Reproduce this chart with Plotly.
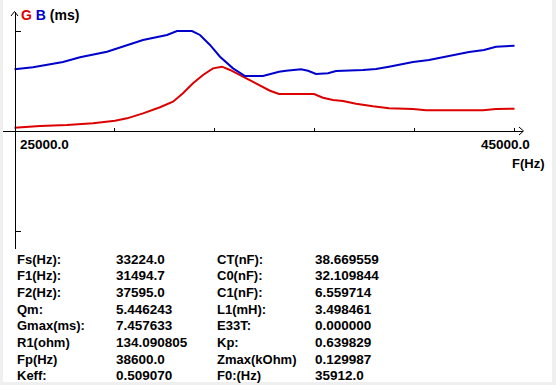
import plotly.graph_objects as go

# ---------------- data ----------------
freq_b = [25000, 25740, 26940, 27620, 28700, 29340, 30140, 31100, 31500, 32100, 32420,
          32820, 33220, 33740, 34220, 34940, 35580, 35860, 36460, 36740, 37060, 37540,
          37860, 38940, 39460, 39980, 40940, 41580, 42380, 43180, 43780, 44260, 45000]
b_ms = [7.16, 7.39, 8.00, 8.55, 9.20, 9.78, 10.56, 11.14, 11.60, 11.60, 11.14,
        9.98, 8.62, 7.27, 6.38, 6.38, 6.88, 6.99, 7.16, 6.99, 6.61, 6.69,
        6.96, 7.08, 7.19, 7.46, 8.00, 8.24, 8.73, 9.16, 9.40, 9.78, 9.89]

freq_g = [25000, 26020, 27100, 28140, 29020, 29500, 30140, 30820, 31340, 31740, 32140,
          32540, 32940, 33300, 33620, 34140, 34700, 35220, 35580, 36980, 37340, 37740,
          38140, 38660, 39340, 39980, 40940, 41460, 43740, 44260, 45000]
g_ms = [0.38, 0.58, 0.70, 0.89, 1.19, 1.47, 2.05, 2.75, 3.40, 4.37, 5.53,
        6.50, 7.27, 7.46, 7.08, 6.30, 5.45, 4.67, 4.29, 4.29, 3.86, 3.60,
        3.48, 3.17, 2.87, 2.63, 2.55, 2.40, 2.40, 2.55, 2.59]

x_ticks = [29000, 33000, 37000, 41000, 45000]
x_tick_labels = ["25000.0", "45000.0"]
y_ticks = [-11.6, 11.6]

param_names_1 = ["Fs(Hz):", "F1(Hz):", "F2(Hz):", "Qm:", "Gmax(ms):", "R1(ohm)", "Fp(Hz)", "Keff:"]
param_values_1 = ["33224.0", "31494.7", "37595.0", "5.446243", "7.457633", "134.090805", "38600.0", "0.509070"]
param_names_2 = ["CT(nF):", "C0(nF):", "C1(nF):", "L1(mH):", "E33T:", "Kp:", "Zmax(kOhm)", "F0:(Hz)"]
param_values_2 = ["38.669559", "32.109844", "6.559714", "3.498461", "0.000000", "0.639829", "0.129987", "35912.0"]

# ---------------- layout helpers ----------------
W, H = 556, 385
def px(x):
    return x / W
def py(y):
    return 1 - y / H

RED = "#dd0000"
BLUE = "#0000cc"
FONT = "Liberation Sans"

fig = go.Figure()
fig.add_trace(go.Scatter(x=freq_g, y=g_ms, mode="lines", line=dict(color=RED, width=2),
                         hoverinfo="skip", showlegend=False))
fig.add_trace(go.Scatter(x=freq_b, y=b_ms, mode="lines", line=dict(color=BLUE, width=2),
                         hoverinfo="skip", showlegend=False))

x_dom = [3, 523]          # pixel extent of the x axis line
y_dom = [11.5, 249]       # pixel extent of the y axis line
hz_per_px = 40.0
ms_per_px = 0.116
x0 = 25000 - (14.5 - x_dom[0]) * hz_per_px
x1 = x0 + (x_dom[1] - x_dom[0]) * hz_per_px
y_top = (131 - y_dom[0]) * ms_per_px
y_bot = (131 - y_dom[1]) * ms_per_px

fig.update_layout(
    width=W, height=H,
    margin=dict(l=0, r=0, t=0, b=0),
    paper_bgcolor="white", plot_bgcolor="rgba(0,0,0,0)",
    xaxis=dict(domain=[px(x_dom[0]), px(x_dom[1])], range=[x0, x1], anchor="free",
               position=py(131), showline=True, linecolor="black", linewidth=1,
               ticks="inside", ticklen=3, tickcolor="black", tickwidth=1,
               tickvals=x_ticks, showticklabels=False, showgrid=False, zeroline=False,
               fixedrange=True),
    yaxis=dict(domain=[py(y_dom[1]), py(y_dom[0])], range=[y_bot, y_top], anchor="free",
               position=px(14.5), showline=True, linecolor="black", linewidth=1,
               ticks="inside", ticklen=5, tickcolor="black", tickwidth=1,
               tickvals=y_ticks, showticklabels=False, showgrid=False, zeroline=False,
               fixedrange=True),
    font=dict(family=FONT, size=13, color="black"),
)

shapes = []
# window frame (light gray)
for (a, b, c, d) in [(0, 0, 3, H), (552, 0, W, H), (0, 382, W, H)]:
    shapes.append(dict(type="rect", xref="paper", yref="paper", x0=px(a), x1=px(c),
                       y0=py(b), y1=py(d), fillcolor="#efefef", line=dict(width=0), layer="below"))
# arrow heads
shapes.append(dict(type="path", xref="paper", yref="paper",
                   path=f"M {px(11)} {py(16)} L {px(14.5)} {py(11.5)} L {px(18)} {py(16)}",
                   line=dict(color="black", width=1)))
shapes.append(dict(type="path", xref="paper", yref="paper",
                   path=f"M {px(519)} {py(127)} L {px(523.5)} {py(131)} L {px(519)} {py(135)}",
                   line=dict(color="black", width=1)))
fig.update_layout(shapes=shapes)

ann = []
def text(x, y, s, xanchor="left", size=13):
    ann.append(dict(x=px(x), y=py(y), xref="paper", yref="paper", text=s, showarrow=False,
                    xanchor=xanchor, yanchor="middle", font=dict(family=FONT, size=size, color="black",
                    weight="bold")))

text(19, 15, f"<span style='color:{RED}'>G</span> <span style='color:{BLUE}'>B</span> (ms)", size=14)
text(18, 144, x_tick_labels[0], size=13.5)
text(532, 144, x_tick_labels[1], xanchor="right", size=13.5)
text(547, 163, "F(Hz)", xanchor="right")

row0, dy = 259, 16.7
for i in range(8):
    y = row0 + i * dy
    text(15, y, param_names_1[i])
    text(114, y, param_values_1[i], size=13.5)
    text(215, y, param_names_2[i])
    text(313, y, param_values_2[i], size=13.5)

fig.update_layout(annotations=ann)
fig.write_html("out.html", config=dict(displayModeBar=False, staticPlot=True),
               post_script="document.body.style.margin='0px';document.body.style.overflow='hidden';")
